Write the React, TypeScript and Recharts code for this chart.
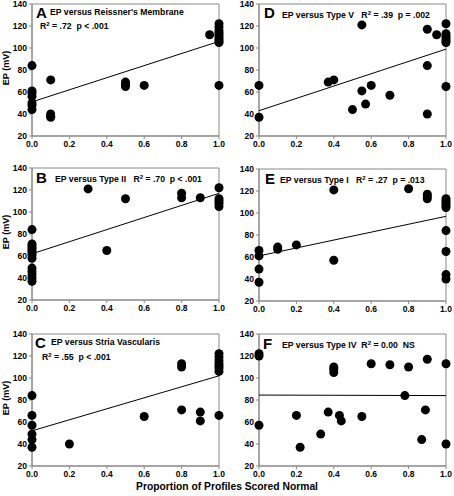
import React from 'react';
import { ScatterChart, Scatter, XAxis, YAxis, ReferenceArea } from 'recharts';

// EP (mV) against proportion of profiles scored normal
const reissnerPts: [number, number][] = [
  [0, 84], [0, 61], [0, 59], [0, 56], [0, 50], [0, 48], [0, 44],
  [0.1, 71], [0.1, 40], [0.1, 38], [0.1, 37],
  [0.5, 69], [0.5, 67], [0.5, 65], [0.6, 66], [0.95, 112],
  [1, 122], [1, 119], [1, 116], [1, 114], [1, 112], [1, 110], [1, 108], [1, 106], [1, 105], [1, 66],
];
const reissnerFit: [number, number][] = [[0, 51], [1, 106]];

const type2Pts: [number, number][] = [
  [0, 84], [0, 71], [0, 69], [0, 67], [0, 65], [0, 63], [0, 61], [0, 58], [0, 49], [0, 46], [0, 43], [0, 40], [0, 37],
  [0.3, 121], [0.4, 65], [0.5, 112], [0.8, 117], [0.8, 113], [0.9, 113],
  [1, 122], [1, 112], [1, 110], [1, 108], [1, 105],
];
const type2Fit: [number, number][] = [[0, 62], [1, 117]];

const striaPts: [number, number][] = [
  [0, 84], [0, 66], [0, 57], [0, 49], [0, 44], [0, 37],
  [0.2, 40], [0.6, 65], [0.8, 113], [0.8, 110], [0.8, 71], [0.9, 69], [0.9, 61],
  [1, 122], [1, 119], [1, 116], [1, 113], [1, 111], [1, 109], [1, 106], [1, 66],
];
const striaFit: [number, number][] = [[0, 52], [1, 102]];

const type5Pts: [number, number][] = [
  [0, 66], [0, 37], [0.37, 69], [0.4, 71], [0.5, 44], [0.55, 121], [0.55, 61], [0.57, 49],
  [0.6, 66], [0.7, 57], [0.9, 117], [0.9, 84], [0.9, 40], [0.95, 112],
  [1, 122], [1, 113], [1, 111], [1, 109], [1, 107], [1, 105], [1, 65],
];
const type5Fit: [number, number][] = [[0, 43], [1, 99]];

const type1Pts: [number, number][] = [
  [0, 66], [0, 61], [0, 49], [0, 37], [0.1, 69], [0.1, 67], [0.2, 71],
  [0.4, 121], [0.4, 57], [0.8, 122], [0.9, 117], [0.9, 115], [0.9, 113],
  [1, 113], [1, 111], [1, 109], [1, 107], [1, 105], [1, 84], [1, 65], [1, 44], [1, 40],
];
const type1Fit: [number, number][] = [[0, 61], [1, 97]];

const type4Pts: [number, number][] = [
  [0, 122], [0, 120], [0, 57], [0.2, 66], [0.22, 37], [0.33, 49], [0.37, 69],
  [0.4, 110], [0.4, 108], [0.4, 105], [0.43, 66], [0.44, 61], [0.55, 65], [0.6, 113],
  [0.7, 112], [0.78, 84], [0.8, 110], [0.87, 44], [0.89, 71], [0.9, 117], [1, 113], [1, 40],
];
const type4Fit: [number, number][] = [[0, 84.5], [1, 84]];

const xTicks = [0, 0.2, 0.4, 0.6, 0.8, 1];
const yTicks = [20, 40, 60, 80, 100, 120, 140];

const font = '"Liberation Sans", Arial, sans-serif';
const tickStyle = { fontSize: 8.5, fontWeight: 700, fill: '#000', fontFamily: font };

const toXY = (pts: [number, number][]) => pts.map(([x, y]) => ({ x, y }));

function Panel({ pts, fit, left, top, yLabel }: {
  pts: [number, number][]; fit: [number, number][]; left: number; top: number; yLabel?: boolean;
}) {
  return (
    <div style={{ position: 'absolute', left, top, width: 227, height: 155 }}>
      <ScatterChart width={227} height={155} margin={{ top: 4, right: 8, bottom: 0, left: 0 }}>
        <XAxis type="number" dataKey="x" domain={[0, 1]} ticks={xTicks} tickFormatter={(v: number) => v.toFixed(1)}
          tick={tickStyle} tickSize={3} stroke="#888" height={19} interval={0} />
        <YAxis type="number" dataKey="y" domain={[20, 140]} ticks={yTicks} tick={tickStyle} tickSize={3}
          stroke="#888" width={32} interval={0} />
        <ReferenceArea x1={0} x2={1} y1={20} y2={140} fill="none" stroke="#888" strokeWidth={1} />
        <Scatter data={toXY(fit)} line={{ stroke: '#000', strokeWidth: 1 }} shape={() => <g />}
          isAnimationActive={false} />
        <Scatter data={toXY(pts)} fill="#000" shape={(p: any) => <circle cx={p.cx} cy={p.cy} r={4.5} fill="#000" />}
          isAnimationActive={false} />
      </ScatterChart>
      {yLabel && (
        <div style={{ position: 'absolute', left: 6, top: 68, width: 0, height: 0 }}>
          <div style={{ position: 'absolute', left: -30, top: -6, width: 60, lineHeight: '12px', textAlign: 'center',
            transform: 'rotate(-90deg)', fontSize: 9, fontWeight: 700, whiteSpace: 'nowrap', fontFamily: font }}>
            EP (mV)
          </div>
        </div>
      )}
    </div>
  );
}

const letter = (l: string, x: number, y: number) => (
  <div style={{ position: 'absolute', left: x, top: y, fontSize: 15, fontWeight: 700, lineHeight: '12px', fontFamily: font }}>{l}</div>
);
const note = (t: React.ReactNode, x: number, y: number) => (
  <div style={{ position: 'absolute', left: x, top: y, fontSize: 8.7, fontWeight: 700, lineHeight: '10px', whiteSpace: 'nowrap', fontFamily: font }}>{t}</div>
);
const R2 = (v: string) => <>R<sup style={{ fontSize: 6, verticalAlign: 3 }}>2</sup> = {v}</>;

export default function App() {
  return (
    <div style={{ position: 'absolute', left: 0, top: 0, width: 454, height: 496, background: '#fff', fontFamily: font }}>
      <Panel pts={reissnerPts} fit={reissnerFit} left={0} top={0} yLabel />
      <Panel pts={type2Pts} fit={type2Fit} left={0} top={164} yLabel />
      <Panel pts={striaPts} fit={striaFit} left={0} top={330} yLabel />
      <Panel pts={type5Pts} fit={type5Fit} left={227} top={0} />
      <Panel pts={type1Pts} fit={type1Fit} left={227} top={165} />
      <Panel pts={type4Pts} fit={type4Fit} left={227} top={330} />

      {letter('A', 36, 7)}
      {note("EP versus Reissner's Membrane", 50, 7)}
      {note(<>{R2('.72')}&nbsp; p &lt; .001</>, 40, 19)}

      {letter('B', 36, 172)}
      {note(<>EP versus Type II &nbsp; {R2('.70')}&nbsp; p &lt; .001</>, 55, 172)}

      {letter('C', 35, 337)}
      {note('EP versus Stria Vascularis', 51, 337)}
      {note(<>{R2('.55')}&nbsp; p &lt; .001</>, 42, 350)}

      {letter('D', 264, 7)}
      {note(<>EP versus Type V &nbsp; {R2('.39')}&nbsp; p = .002</>, 282, 8)}

      {letter('E', 265, 173)}
      {note(<>EP versus Type I &nbsp; {R2('.27')}&nbsp; p = .013</>, 280, 173)}

      {letter('F', 263, 338)}
      {note(<>EP versus Type IV &nbsp;{R2('0.00')}&nbsp; NS</>, 282, 338)}

      <div style={{ position: 'absolute', left: 0, width: 454, top: 481, textAlign: 'center', fontSize: 10.3, fontWeight: 700, fontFamily: font }}>
        Proportion of Profiles Scored Normal
      </div>
    </div>
  );
}
